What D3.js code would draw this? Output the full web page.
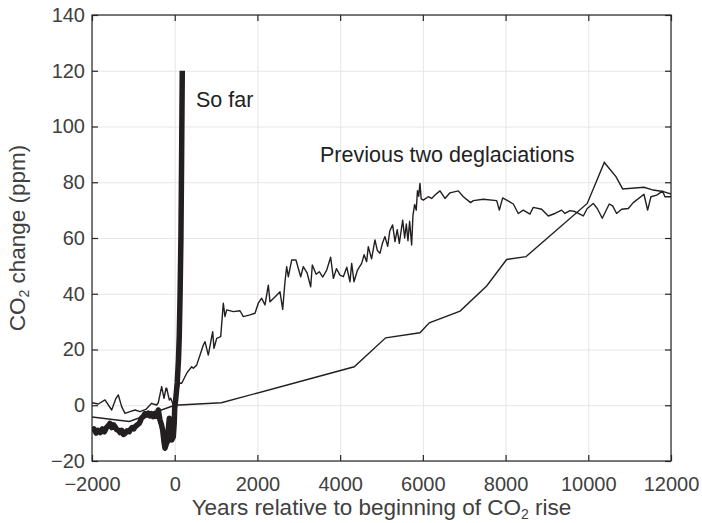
<!DOCTYPE html>
<html>
<head>
<meta charset="utf-8">
<script src="https://cdn.jsdelivr.net/npm/d3@7"></script>
<style>
  body { margin: 0; background: #fff; }
  svg { display: block; font-family: "Liberation Sans", Arial, Helvetica, sans-serif; }
  .grid line { stroke: #e6e6e6; stroke-width: 1; }
  .grid path { display: none; }
  .ticks path { display: none; }
  .ticks line { stroke: #262626; stroke-width: 1.2; }
  .ticks text { fill: #404040; font-size: 20px; }
</style>
</head>
<body>
<svg width="702" height="523"></svg>
<script>
// x ticks / y ticks
const xTicks = [-2000, 0, 2000, 4000, 6000, 8000, 10000, 12000];
const yTicks = [-20, 0, 20, 40, 60, 80, 100, 120, 140];

// "So far" (thick line): years, ppm change
const soFarYears = [-2000, -1950, -1900, -1850, -1800, -1750, -1700, -1650, -1600, -1565, -1520, -1480, -1444, -1400, -1350, -1323, -1280, -1240, -1202, -1150, -1100, -1081, -1030, -990, -960, -900, -860, -839, -800, -760, -720, -677, -640, -600, -560, -518, -477, -440, -397, -356, -320, -291, -260, -235, -205, -179, -150, -131, -100, -73, -34, -10, 0, 30, 60, 90, 110, 130, 150, 165, 175, 183];
const soFarCO2 = [-9.5, -8.5, -10, -9, -9.8, -8.5, -9.5, -8, -7.2, -6.5, -8, -7, -7.7, -8.8, -9, -9.8, -9, -10.5, -10.1, -9.2, -9.5, -8.9, -8, -8.5, -7.7, -7, -6.5, -5.9, -4.5, -4.1, -3, -3.5, -2.8, -3.8, -3, -4.1, -2.9, -4, -1.7, -5.3, -7, -8.9, -13, -15.4, -14, -13.1, -8, -4.7, -9, -12.5, -11.3, -6, -1, 3, 8, 16, 25, 40, 60, 85, 105, 120];

// previous deglaciation, noisy record
const degA_years = [-2000, -1848, -1686, -1524, -1420, -1364, -1283, -1202, -1081, -960, -839, -700, -557, -518, -437, -397, -316, -259, -211, -194, -131, -97, -34, 0, 60, 120, 169, 290, 410, 449, 531, 692, 732, 812, 918, 950, 1015, 1112, 1175, 1216, 1257, 1417, 1578, 1659, 1820, 1941, 2021, 2103, 2183, 2263, 2304, 2466, 2546, 2611, 2666, 2707, 2747, 2828, 2932, 3046, 3109, 3200, 3288, 3327, 3420, 3496, 3580, 3675, 3771, 3836, 3910, 3996, 4077, 4160, 4238, 4279, 4335, 4420, 4520, 4580, 4641, 4681, 4760, 4842, 4900, 4963, 5020, 5084, 5150, 5200, 5269, 5326, 5380, 5431, 5512, 5560, 5600, 5640, 5680, 5729, 5760, 5800, 5840, 5870, 5900, 5930, 5960, 6010, 6131, 6212, 6300, 6414, 6535, 6656, 6857, 6978, 7155, 7219, 7461, 7785, 7849, 7930, 8027, 8187, 8307, 8428, 8590, 8670, 8873, 9032, 9194, 9356, 9436, 9557, 9678, 9879, 9975, 10120, 10217, 10338, 10507, 10589, 10685, 10806, 10967, 11088, 11346, 11435, 11515, 11653, 11798, 11854, 12016];
const degA_co2 = [0.9, 0.45, 1.9, -1.7, 2.5, 3.7, -0.5, -2.9, -2.3, -1.7, -2.3, -1.5, 0.7, 0.45, 0.1, 0.9, 6.7, 2.5, 6.1, 6.1, 1.9, 2.5, 0.1, 1, 5, 8, 7.9, 11.5, 13.8, 13.3, 14.4, 21.6, 22.8, 18.0, 26.4, 20.4, 24.0, 24.6, 36.6, 31.8, 34.2, 33.6, 33.9, 31.8, 32.4, 33.0, 36.6, 38.4, 36.0, 43.1, 37.1, 39.5, 40.7, 34.4, 44.3, 49.7, 46.1, 52.1, 52.1, 46.1, 49.7, 47.5, 42.5, 50.3, 47.0, 47.9, 46.0, 48.5, 53.1, 45.5, 49.0, 46.7, 46.1, 49.5, 44.3, 50.9, 44.3, 48.5, 50.9, 54.0, 51.5, 56.9, 52.5, 59.3, 55.5, 54.5, 58.0, 60.5, 57.0, 62.5, 64.7, 58.7, 63.0, 58.1, 66.4, 60, 65, 59, 66, 57.5, 68, 72, 70, 77, 75, 79.6, 74, 73.6, 74.8, 74.2, 75.5, 76.9, 74.2, 76.2, 76.9, 74.8, 72.7, 73.4, 73.9, 73.4, 70.0, 74.4, 73.6, 72.2, 68.8, 70.0, 68.6, 71.0, 70.3, 67.9, 68.8, 70.0, 68.8, 69.8, 69.5, 67.9, 70.6, 72.4, 70.6, 67.1, 72.2, 71.5, 68.8, 70.3, 70.6, 72.7, 75.7, 70.0, 74.8, 75.4, 76.8, 74.8, 74.8];

// previous deglaciation, smooth record
const degB_years = [-2000, -1100, 0, 1130, 4340, 5100, 5930, 6155, 6900, 7543, 8026, 8493, 9975, 10387, 10669, 10831, 11346, 11572, 11798, 12016];
const degB_co2 = [-4.2, -5.8, 0, 0.9, 13.8, 24.2, 26.0, 29.6, 33.8, 42.8, 52.3, 53.3, 72.4, 87.1, 82.0, 77.6, 78.2, 77.2, 76.7, 75.7];

const margin = {top: 15, right: 31, bottom: 62, left: 92};
const svg = d3.select("svg");
const width = 702 - margin.left - margin.right;
const height = 523 - margin.top - margin.bottom;
const g = svg.append("g").attr("transform", "translate(" + margin.left + "," + margin.top + ")");

const x = d3.scaleLinear().domain([-2000, 12000]).range([0, width]);
const y = d3.scaleLinear().domain([-20, 140]).range([height, 0]);

// grid
g.append("g").attr("class", "grid")
    .attr("transform", "translate(0," + height + ")")
    .call(d3.axisBottom(x).tickValues(xTicks).tickSize(-height).tickFormat(""));
g.append("g").attr("class", "grid")
    .call(d3.axisLeft(y).tickValues(yTicks).tickSize(-width).tickFormat(""));

g.append("clipPath").attr("id", "clip")
    .append("rect").attr("width", width).attr("height", height);

const line = d3.line().x(d => x(d[0])).y(d => y(d[1]));
const lineColor = "#231f20";

g.append("path")
    .datum(d3.zip(degB_years, degB_co2))
    .attr("clip-path", "url(#clip)")
    .attr("fill", "none").attr("stroke", lineColor).attr("stroke-width", 1.4)
    .attr("d", line);
g.append("path")
    .datum(d3.zip(degA_years, degA_co2))
    .attr("clip-path", "url(#clip)")
    .attr("fill", "none").attr("stroke", lineColor).attr("stroke-width", 1.4)
    .attr("stroke-linejoin", "round")
    .attr("d", line);
g.append("path")
    .datum(d3.zip(soFarYears, soFarCO2))
    .attr("clip-path", "url(#clip)")
    .attr("fill", "none").attr("stroke", lineColor).attr("stroke-width", 5.5)
    .attr("stroke-linejoin", "round")
    .attr("d", line);

// box axes, ticks inward
const fmt = d => d < 0 ? "\u2212" + Math.abs(d) : d;
g.append("g").attr("class", "ticks")
    .attr("transform", "translate(0," + height + ")")
    .call(d3.axisBottom(x).tickValues(xTicks).tickSize(-6).tickPadding(16).tickFormat(fmt));
g.append("g").attr("class", "ticks")
    .call(d3.axisTop(x).tickValues(xTicks).tickSize(-6).tickFormat(""));
g.append("g").attr("class", "ticks")
    .call(d3.axisLeft(y).tickValues(yTicks).tickSize(-6).tickPadding(7).tickFormat(fmt));
g.append("g").attr("class", "ticks")
    .attr("transform", "translate(" + width + ",0)")
    .call(d3.axisRight(y).tickValues(yTicks).tickSize(-6).tickFormat(""));
g.append("rect")
    .attr("width", width).attr("height", height)
    .attr("fill", "none").attr("stroke", "#262626").attr("stroke-width", 1.2);

// annotations
g.append("text").attr("x", 104).attr("y", 92)
    .attr("font-size", 21.5).attr("fill", "#222").text("So far");
g.append("text").attr("x", 228).attr("y", 147)
    .attr("font-size", 21.5).attr("fill", "#222").text("Previous two deglaciations");

// axis labels
const xl = svg.append("text")
    .attr("x", margin.left + width / 2).attr("y", 515)
    .attr("text-anchor", "middle").attr("font-size", 22.5).attr("fill", "#404040");
xl.append("tspan").text("Years relative to beginning of CO");
xl.append("tspan").attr("font-size", 14).attr("dy", 4).text("2");
xl.append("tspan").attr("dy", -4).text(" rise");

const yl = svg.append("text")
    .attr("transform", "translate(25," + (margin.top + height / 2) + ") rotate(-90)")
    .attr("text-anchor", "middle").attr("font-size", 22.5).attr("fill", "#404040");
yl.append("tspan").text("CO");
yl.append("tspan").attr("font-size", 14).attr("dy", 4).text("2");
yl.append("tspan").attr("dy", -4).text(" change (ppm)");
</script>
</body>
</html>
